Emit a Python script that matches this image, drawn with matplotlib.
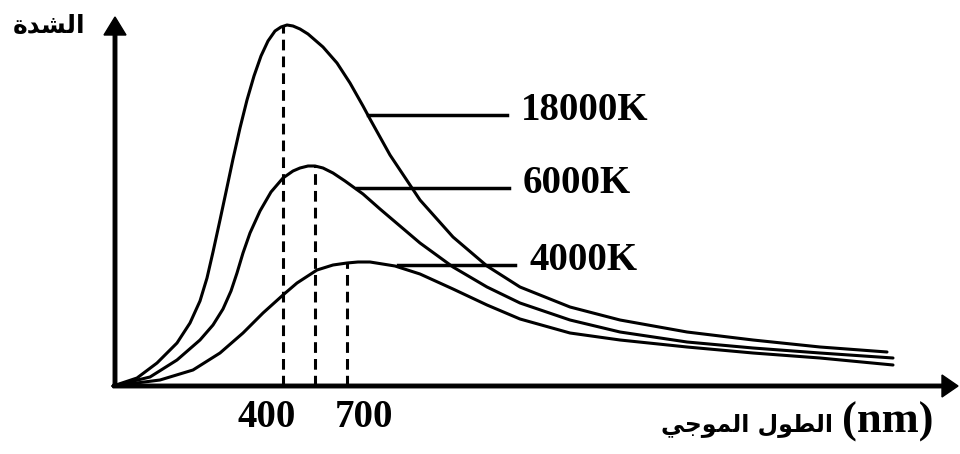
import matplotlib.pyplot as plt
import numpy as np

# криві (x - довжина хвилі, y - інтенсивність)
x_18000 = [0, 24, 44, 64, 77, 87, 94, 100, 107, 113, 120, 127, 134, 141, 148, 155, 162, 168,
           174, 180, 187, 195, 210, 224, 237, 250, 257, 277, 307, 340, 374, 407, 457, 507,
           574, 640, 707, 774]
y_18000 = [0, 8, 23, 43, 63, 85, 108, 134, 166, 194, 227, 258, 286, 310, 330, 345, 355, 359,
           361, 360, 357, 352, 339, 323, 303, 280, 267, 231, 186, 149, 120, 99, 79, 66,
           54, 46, 39, 34]

x_6000 = [0, 37, 64, 87, 100, 110, 118, 124, 130, 137, 147, 158, 170, 180, 187, 195, 202, 210,
          220, 232, 250, 267, 287, 307, 340, 374, 407, 457, 507, 574, 640, 707, 780]
y_6000 = [0, 9, 26, 46, 61, 77, 95, 113, 133, 153, 175, 194, 208, 215, 218, 220, 220, 218,
          213, 205, 192, 177, 160, 143, 119, 99, 83, 66, 54, 44, 38, 33, 28]

x_4000 = [0, 47, 80, 107, 130, 150, 170, 184, 204, 220, 234, 245, 257, 282, 307, 340, 374, 407,
          457, 507, 574, 640, 707, 780]
y_4000 = [0, 6, 16, 33, 53, 73, 91, 103, 116, 121, 123, 124, 124, 120, 112, 97, 81, 67,
          53, 46, 39, 33, 28, 21]

# максимуми (пунктир)
peak_x = [170, 202, 234]
peak_y = [360, 220, 123]

# підписи температур
labels = ['18000K', '6000K', '4000K']
label_y = [271, 198, 121]
label_x0 = [255, 244, 285]
label_x1 = [394, 396, 402]

tick_pos = [124, 222]
tick_text = ['400', '700']

fig = plt.figure(figsize=(9.6, 4.54), dpi=100)
ax = fig.add_axes([0, 0, 1, 1])
ax.set_xlim(-113, 847)
ax.set_ylim(-68, 386)
ax.axis('off')

serif = {'family': 'Liberation Serif', 'weight': 'bold', 'color': 'black'}

# криві
for xs, ys in [(x_18000, y_18000), (x_6000, y_6000), (x_4000, y_4000)]:
    ax.plot(xs, ys, color='black', lw=2.2, solid_joinstyle='round', solid_capstyle='round')

# пунктирні лінії
for px, py in zip(peak_x, peak_y):
    ax.plot([px, px], [0, py], color='black', lw=2.2, linestyle=(0, (3.5, 2)))

# лінії та підписи
for lab, ly, a, b in zip(labels, label_y, label_x0, label_x1):
    ax.plot([a, b], [ly, ly], color='black', lw=2.5)
    ax.text(b + 14, ly - 5, lab, fontsize=28, va='baseline', ha='left', **serif)

# осі зі стрілками
ax.arrow(0, 0, 845, 0, width=3.5, head_width=22, head_length=16,
         length_includes_head=True, color='black')
ax.arrow(2, 0, 0, 369, width=3.5, head_width=22, head_length=18,
         length_includes_head=True, color='black')

for tp, tt in zip(tick_pos, tick_text):
    ax.text(tp, -41, tt, fontsize=28, ha='left', va='baseline', **serif)

# підписи осей
ax.text(-28, 360, '\ufe93\ufeaa\ufeb8\ufedf\ufe8d', fontsize=18, fontweight='bold',
        family='DejaVu Sans', ha='right', va='center')
ax.text(720, -45, '\ufef2\ufe9f\ufeee\ufee4\ufedf\ufe8d \ufedd\ufeee\ufec4\ufedf\ufe8d',
        fontsize=17, fontweight='bold', family='DejaVu Sans', ha='right', va='baseline')
ax.text(729, -47, '(nm)', fontsize=32, ha='left', va='baseline', **serif)

plt.savefig('out.png', dpi=100, facecolor='white')
